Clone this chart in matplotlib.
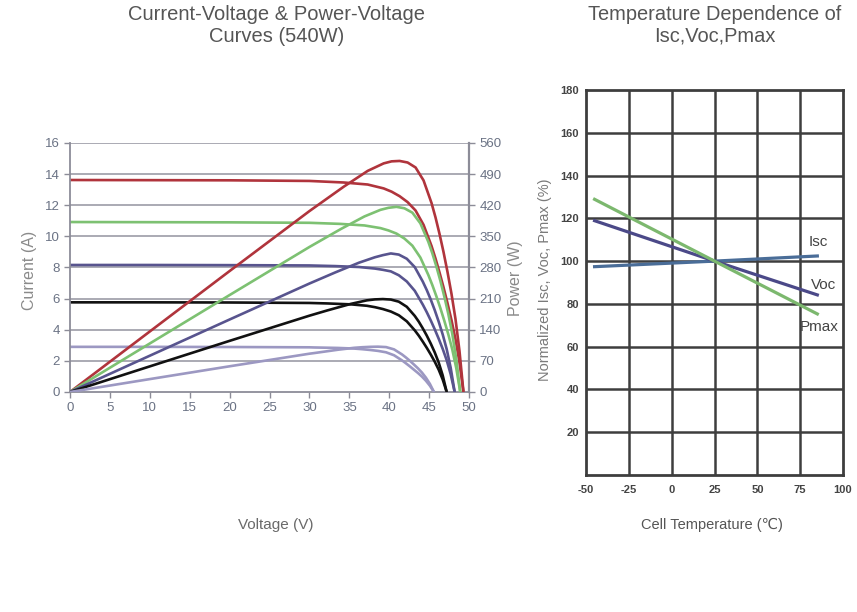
import numpy as np
import matplotlib.pyplot as plt

plt.rcParams['font.family'] = ['Liberation Sans', 'DejaVu Sans']
plt.rcParams['axes.unicode_minus'] = False

# I-V curves, 1000 -> 200 W/m2
v_1000 = [0, 10, 20, 30, 34.3, 37.3, 39.3, 40.3, 41.3, 42.3, 43.3, 44.3, 45.3, 45.8, 46.3, 46.8, 47.3, 47.8, 48.3, 48.8, 49.3]
i_1000 = [13.62, 13.61, 13.60, 13.56, 13.46, 13.33, 13.08, 12.87, 12.58, 12.20, 11.66, 10.74, 9.38, 8.57, 7.68, 6.73, 5.71, 4.62, 3.40, 1.90, 0]

v_800 = [0, 10, 20, 30, 33.9, 36.9, 38.9, 39.9, 40.9, 41.9, 42.9, 43.9, 44.9, 45.4, 45.9, 46.4, 46.9, 47.4, 47.9, 48.4, 48.9]
i_800 = [10.92, 10.91, 10.90, 10.87, 10.80, 10.70, 10.53, 10.38, 10.18, 9.86, 9.40, 8.64, 7.52, 6.87, 6.16, 5.40, 4.58, 3.71, 2.73, 1.53, 0]

v_600 = [0, 10, 20, 30, 33.2, 36.2, 38.2, 39.2, 40.2, 41.2, 42.2, 43.2, 44.2, 44.7, 45.2, 45.7, 46.2, 46.7, 47.2, 47.7, 48.2]
i_600 = [8.16, 8.16, 8.15, 8.13, 8.09, 8.03, 7.93, 7.85, 7.75, 7.50, 7.10, 6.50, 5.62, 5.13, 4.60, 4.03, 3.42, 2.77, 2.04, 1.14, 0]

v_400 = [0, 10, 20, 30, 32.2, 35.2, 37.2, 38.2, 39.2, 40.2, 41.2, 42.2, 43.2, 43.7, 44.2, 44.7, 45.2, 45.7, 46.2, 46.7, 47.2]
i_400 = [5.76, 5.76, 5.75, 5.72, 5.69, 5.63, 5.54, 5.45, 5.33, 5.17, 4.93, 4.54, 3.96, 3.62, 3.24, 2.84, 2.41, 1.95, 1.43, 0.80, 0]

v_200 = [0, 10, 20, 30, 30.6, 33.6, 35.6, 36.6, 37.6, 38.6, 39.6, 40.6, 41.6, 42.1, 42.6, 43.1, 43.6, 44.1, 44.6, 45.1, 45.6]
i_200 = [2.90, 2.90, 2.89, 2.87, 2.86, 2.83, 2.79, 2.75, 2.70, 2.64, 2.55, 2.36, 2.03, 1.84, 1.64, 1.43, 1.22, 0.99, 0.72, 0.40, 0]

curve_colors = ['#b0343c', '#7dc172', '#58548e', '#111111', '#9c98c2']

# temperature coefficients chart
temp = [-45, 25, 85]
isc_pct = [97.4, 100, 102.4]
voc_pct = [118.9, 100, 84.2]
pmax_pct = [128.9, 100, 75.3]

fig = plt.figure(figsize=(8.57, 6.12), dpi=100)

# ---- left: I-V and P-V
ax1 = fig.add_axes([0.0817, 0.3595, 0.4656, 0.4069])
ax2 = ax1.twinx()
ax1.set_xlim(0, 50)
ax1.set_ylim(0, 16)
ax2.set_ylim(0, 560)
ax1.set_xticks(range(0, 51, 5))
ax1.set_yticks(range(0, 17, 2))
ax2.set_yticks(range(0, 561, 70))

for y in range(2, 17, 2):
    ax1.axhline(y, color='#a4a4ae', lw=1.3, zorder=0)

curves = [(v_1000, i_1000), (v_800, i_800), (v_600, i_600), (v_400, i_400), (v_200, i_200)]
for (v, i), c in zip(curves, curve_colors):
    v = np.array(v)
    i = np.array(i)
    ax1.plot(v, i, color=c, lw=1.9, solid_capstyle='round', solid_joinstyle='round')
    ax2.plot(v, v * i, color=c, lw=1.9, solid_capstyle='round', solid_joinstyle='round')

for ax in (ax1, ax2):
    ax.spines['top'].set_visible(False)
ax1.spines['right'].set_visible(False)
for s in ('left', 'bottom'):
    ax1.spines[s].set_color('#8c8c98')
    ax1.spines[s].set_linewidth(1.3)
ax2.spines['left'].set_visible(False)
ax2.spines['bottom'].set_visible(False)
ax2.spines['right'].set_color('#8c8c98')
ax2.spines['right'].set_linewidth(1.6)

tick_col = '#6a7284'
ax1.tick_params(axis='both', colors='#8c8c98', labelcolor=tick_col, labelsize=9.5, length=4, width=1)
ax2.tick_params(axis='y', colors='#8c8c98', labelcolor=tick_col, labelsize=9.5, length=4, width=1)

fig.text(0.035, 0.559, 'Current (A)', rotation=90, ha='center', va='center', color='#8a8a8a', fontsize=11.5)
fig.text(0.601, 0.546, 'Power (W)', rotation=90, ha='center', va='center', color='#8a8a8a', fontsize=11.5)
fig.text(0.322, 0.142, 'Voltage (V)', ha='center', va='center', color='#6a6a6a', fontsize=11)
fig.text(0.323, 0.959, 'Current-Voltage & Power-Voltage\nCurves (540W)', ha='center', va='center',
         color='#555555', fontsize=14.5)

# ---- right: temperature dependence
ax3 = fig.add_axes([0.6838, 0.2239, 0.2999, 0.629])
ax3.set_xlim(-50, 100)
ax3.set_ylim(0, 180)
ax3.set_xticks(range(-50, 101, 25))
ax3.set_yticks(range(20, 181, 20))
for x in range(-25, 100, 25):
    ax3.axvline(x, color='#3e3e3e', lw=1.8, zorder=0)
for y in range(20, 180, 20):
    ax3.axhline(y, color='#3e3e3e', lw=1.8, zorder=0)
for s in ax3.spines.values():
    s.set_color('#3e3e3e')
    s.set_linewidth(2)

ax3.plot(temp, isc_pct, color='#4a6d98', lw=2.3)
ax3.plot(temp, voc_pct, color='#4b4988', lw=2.3)
ax3.plot(temp, pmax_pct, color='#7cb86e', lw=2.3)

ax3.text(80, 109, 'Isc', color='#444444', fontsize=11, ha='left', va='center')
ax3.text(81, 89, 'Voc', color='#444444', fontsize=11, ha='left', va='center', clip_on=True)
ax3.text(75, 69, 'Pmax', color='#444444', fontsize=11, ha='left', va='center')

ax3.tick_params(axis='both', length=0, labelsize=8, labelcolor='#444444')
for lab in ax3.get_xticklabels() + ax3.get_yticklabels():
    lab.set_fontweight('bold')
ax3.tick_params(axis='x', pad=7)
ax3.tick_params(axis='y', pad=5)

fig.text(0.636, 0.5425, 'Normalized Isc, Voc, Pmax (%)', rotation=90, ha='center', va='center',
         color='#7a7a7a', fontsize=10.5)
fig.text(0.831, 0.142, 'Cell Temperature (\u2103)', ha='center', va='center', color='#555555', fontsize=10.5)
fig.text(0.834, 0.959, 'Temperature Dependence of\nIsc,Voc,Pmax', ha='center', va='center',
         color='#555555', fontsize=14.4)

fig.savefig('out.png', dpi=100)
